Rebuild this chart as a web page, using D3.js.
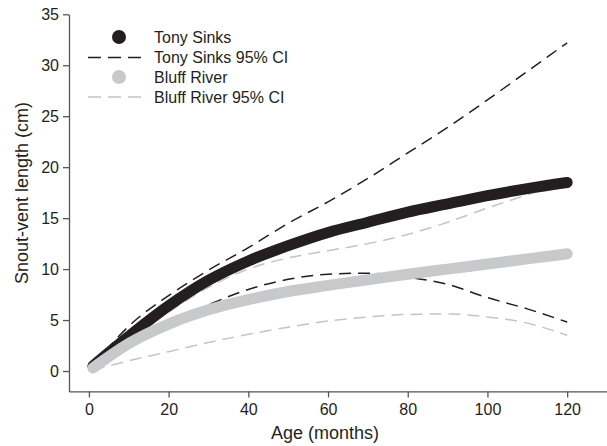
<!DOCTYPE html>
<html>
<head>
<meta charset="utf-8">
<script src="https://d3js.org/d3.v7.min.js"></script>
<style>
  body { margin: 0; background: #fff; }
  svg text { font-family: "Liberation Sans", Arial, sans-serif; fill: #231f20; }
</style>
</head>
<body>
<div id="chart"></div>
<script>
// growth curves
var ages = [1, 10, 20, 30, 40, 50, 60, 70, 80, 90, 100, 110, 120];
var tonyMean  = [0.5, 3.4, 6.4, 8.9, 10.8, 12.3, 13.6, 14.6, 15.6, 16.4, 17.2, 17.9, 18.5];
var tonyUpper = [0.5, 4.4, 7.4, 9.9, 12.1, 14.5, 16.6, 18.9, 21.4, 23.9, 26.6, 29.4, 32.2];
var tonyLower = [0.5, 2.6, 4.7, 6.5, 8.0, 9.0, 9.5, 9.6, 9.2, 8.5, 7.2, 6.1, 4.8];
var bluffMean  = [0.3, 2.7, 4.6, 6.0, 7.0, 7.8, 8.4, 8.95, 9.5, 10.0, 10.5, 11.0, 11.5];
var bluffUpper = [0.3, 3.2, 5.8, 8.2, 10.0, 11.1, 11.8, 12.5, 13.4, 14.6, 16.0, 17.3, 18.7];
var bluffLower = [0.1, 1.0, 1.9, 2.8, 3.6, 4.3, 4.9, 5.3, 5.55, 5.6, 5.3, 4.7, 3.5];
var xTicks = [0, 20, 40, 60, 80, 100, 120];
var yTicks = [0, 5, 10, 15, 20, 25, 30, 35];
var legendLabels = ["Tony Sinks", "Tony Sinks 95% CI", "Bluff River", "Bluff River 95% CI"];

var W = 607, H = 446;
var margin = {top: 14.3, right: 0, bottom: 54.6, left: 69};
var width = W - margin.left - margin.right,
    height = H - margin.top - margin.bottom;

var black = "#231f20", grey = "#c8c9ca", greyDash = "#c4c4c4";

var svg = d3.select("#chart").append("svg")
    .attr("width", W).attr("height", H)
  .append("g")
    .attr("transform", "translate(" + margin.left + "," + margin.top + ")");

var x = d3.scaleLinear().domain([-5, 130]).range([0, width]);
var y = d3.scaleLinear().domain([-2, 35]).range([height, 0]);

// axes
var xAxis = svg.append("g")
    .attr("transform", "translate(0," + height + ")")
    .call(d3.axisBottom(x).tickValues(xTicks).tickSize(6).tickPadding(6).tickSizeOuter(0));
var yAxis = svg.append("g")
    .call(d3.axisLeft(y).tickValues(yTicks).tickSize(6).tickPadding(4).tickSizeOuter(0));

[xAxis, yAxis].forEach(function(a) {
  a.selectAll("path, line").attr("stroke", "#555").attr("stroke-width", 1.3);
  a.selectAll("text").style("font-size", "16px").attr("fill", black);
});

// axis titles
svg.append("text")
    .attr("x", 325 - margin.left).attr("y", 439 - margin.top)
    .attr("text-anchor", "middle")
    .style("font-size", "18px")
    .text("Age (months)");
svg.append("text")
    .attr("transform", "rotate(-90)")
    .attr("x", -(193 - margin.top)).attr("y", 28 - margin.left)
    .attr("text-anchor", "middle")
    .style("font-size", "18px")
    .text("Snout-vent length (cm)");

var line = d3.line()
    .x(function(d) { return x(d[0]); })
    .y(function(d) { return y(d[1]); })
    .curve(d3.curveMonotoneX);

function pts(vals) { return ages.map(function(a, i) { return [a, vals[i]]; }); }

// CI lines
[[bluffUpper, greyDash], [bluffLower, greyDash], [tonyUpper, black], [tonyLower, black]].forEach(function(s) {
  svg.append("path")
    .attr("d", line(pts(s[0])))
    .attr("fill", "none")
    .attr("stroke", s[1])
    .attr("stroke-width", 1.5)
    .attr("stroke-dasharray", "12,7");
});

// fitted curves
[[tonyMean, black], [bluffMean, grey]].forEach(function(s) {
  svg.append("path")
    .attr("d", line(pts(s[0])))
    .attr("fill", "none")
    .attr("stroke", s[1])
    .attr("stroke-width", 11)
    .attr("stroke-linecap", "round");
});

// legend
var legend = svg.append("g").attr("transform", "translate(" + (-margin.left) + "," + (-margin.top) + ")");
var rowsY = [37, 57.5, 77, 97];
legendLabels.forEach(function(lbl, i) {
  var cy = rowsY[i];
  var col = (i < 2) ? black : grey;
  if (i % 2 === 0) {
    legend.append("circle").attr("cx", 119).attr("cy", cy).attr("r", 7).attr("fill", col);
  } else {
    legend.append("line")
      .attr("x1", 88).attr("x2", 146).attr("y1", cy).attr("y2", cy)
      .attr("stroke", i === 1 ? black : greyDash)
      .attr("stroke-width", 1.5)
      .attr("stroke-dasharray", "13,7");
  }
  legend.append("text")
    .attr("x", 154).attr("y", cy)
    .attr("dy", "0.35em")
    .style("font-size", "16px")
    .text(lbl);
});
</script>
</body>
</html>
